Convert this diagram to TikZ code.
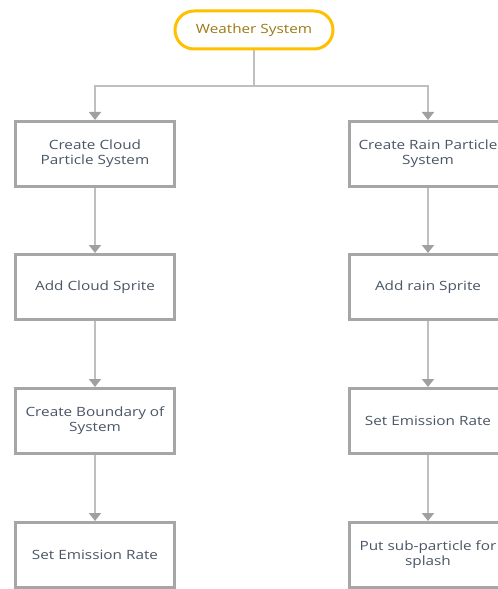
\documentclass[tikz,border=0pt]{standalone}
\usepackage{fontspec}
\setmainfont{Open Sans}[FakeStretch=1.2]
\usepackage{tikz}
\usetikzlibrary{shapes,arrows.meta}
\definecolor{boxgray}{HTML}{A6A6A6}
\definecolor{linegray}{HTML}{BFBFBF}
\definecolor{tipgray}{HTML}{A0A0A0}
\definecolor{gold}{HTML}{FFC000}
\definecolor{goldtext}{HTML}{9C7A12}
\definecolor{steptext}{HTML}{4A5566}
\tikzstyle{line} = [draw, linegray, line width=1.8bp, -{Triangle[length=8bp,width=12bp,color=tipgray]}]
\tikzstyle{plain} = [draw, linegray, line width=1.8bp]
\tikzstyle{stepbox} = [draw=boxgray, line width=3bp, fill=white, minimum width=158bp, minimum height=65bp, align=center, text=steptext, font=\fontsize{12.8}{15}\selectfont]
\tikzstyle{terminal} = [draw=gold, line width=3bp, fill=white, rounded corners=19bp, minimum width=158bp, minimum height=38bp, text=goldtext, font=\fontsize{12.8}{15}\selectfont]

\begin{document}
\begin{tikzpicture}[x=1bp, y=-1bp]
    \useasboundingbox (0,0) rectangle (498,589);
    \clip (0,0) rectangle (498,589);
    \node [terminal] (ws) at (254,30) {Weather System};
    \coordinate (split) at (254,86);
    % cloud column
    \node [stepbox] (c1) at (95,154) {Create Cloud\\Particle System};
    \node [stepbox] (c2) at (95,287) {Add Cloud Sprite};
    \node [stepbox] (c3) at (95,421) {Create Boundary of\\System};
    \node [stepbox] (c4) at (95,555) {Set Emission Rate};
    % rain column
    \node [stepbox] (r1) at (428,154) {Create Rain Particle\\System};
    \node [stepbox] (r2) at (428,287) {Add rain Sprite};
    \node [stepbox] (r3) at (428,421) {Set Emission Rate};
    \node [stepbox] (r4) at (428,555) {Put sub-particle for\\splash};
    \path [plain] (ws.south) -- (split);
    \path [line] (split) -| (c1.north);
    \path [line] (split) -| (r1.north);
    \path [line] (c1) -- (c2);
    \path [line] (c2) -- (c3);
    \path [line] (c3) -- (c4);
    \path [line] (r1) -- (r2);
    \path [line] (r2) -- (r3);
    \path [line] (r3) -- (r4);
\end{tikzpicture}
\end{document}
